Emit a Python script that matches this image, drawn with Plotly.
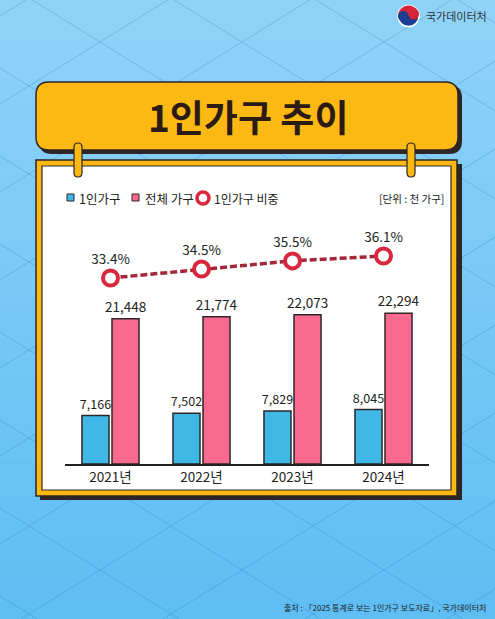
import math
import plotly.graph_objects as go

# data
years = ["2021년", "2022년", "2023년", "2024년"]
single_hh = [7166, 7502, 7829, 8045]
total_hh = [21448, 21774, 22073, 22294]
single_share = [33.4, 34.5, 35.5, 36.1]

W, H = 495, 619
BLUE = "#3FB8E8"
PINK = "#FB6A8E"
RED = "#D9283D"
YELLOW = "#FDB913"
DARK = "#2E2626"
KR = "Noto Sans CJK KR, sans-serif"


def X(px):
    return px / W


def Y(py):
    return 1 - py / H


def rrect_path(x0, y0, x1, y1, r):
    # rounded rectangle in pixel coords -> paper path
    pts = [
        f"M{X(x0 + r)},{Y(y0)}", f"L{X(x1 - r)},{Y(y0)}", f"Q{X(x1)},{Y(y0)} {X(x1)},{Y(y0 + r)}",
        f"L{X(x1)},{Y(y1 - r)}", f"Q{X(x1)},{Y(y1)} {X(x1 - r)},{Y(y1)}",
        f"L{X(x0 + r)},{Y(y1)}", f"Q{X(x0)},{Y(y1)} {X(x0)},{Y(y1 - r)}",
        f"L{X(x0)},{Y(y0 + r)}", f"Q{X(x0)},{Y(y0)} {X(x0 + r)},{Y(y0)}", "Z",
    ]
    return " ".join(pts)


def arc_path(cx, cy, r, a0, a1, n=24):
    pts = []
    for i in range(n + 1):
        a = math.radians(a0 + (a1 - a0) * i / n)
        pts.append((cx + r * math.cos(a), cy - r * math.sin(a)))
    return "M" + " L".join(f"{X(px)},{Y(py)}" for px, py in pts) + " Z"


def prect(x0, y0, x1, y1, fill, line=None, lw=0, layer="below"):
    return dict(type="rect", xref="paper", yref="paper", x0=X(x0), x1=X(x1), y0=Y(y1), y1=Y(y0),
                fillcolor=fill, line=dict(color=line or fill, width=lw), layer=layer)


shapes = []

# background gradient bands
top_c, bot_c = (0x90, 0xD3, 0xF8), (0x5F, 0xBE, 0xF4)
nb = 31
for i in range(nb):
    t = i / (nb - 1)
    c = tuple(int(top_c[k] + (bot_c[k] - top_c[k]) * t) for k in range(3))
    shapes.append(prect(-2, i * 20 - 1, W + 2, (i + 1) * 20 + 1, "rgb(%d,%d,%d)" % c))

# diagonal lattice
s, P = 0.62, 88
for k in range(-12, 14):
    c0 = k * P - 20
    for sign in (1, -1):
        xa, xb = -10, W + 10
        if sign == 1:
            ya, yb = c0 + s * xa, c0 + s * xb
        else:
            ya, yb = c0 + 300 - s * xa, c0 + 300 - s * xb
        shapes.append(dict(type="line", xref="paper", yref="paper", x0=X(xa), x1=X(xb), y0=Y(ya), y1=Y(yb),
                           line=dict(color="rgba(40,120,185,0.28)", width=1), layer="below"))

# title banner
shapes.append(dict(type="path", xref="paper", yref="paper", path=rrect_path(39, 85, 462, 154, 13),
                   fillcolor=DARK, line=dict(width=0), layer="below"))
shapes.append(dict(type="path", xref="paper", yref="paper", path=rrect_path(36, 82, 458, 150, 13),
                   fillcolor=YELLOW, line=dict(color=DARK, width=1.5), layer="below"))

# chart frame
shapes.append(prect(40, 164, 462, 500, DARK))
shapes.append(prect(36, 160, 457, 496, YELLOW, DARK, 1.5))
shapes.append(prect(42, 166, 451, 490, "white", DARK, 1.2))

# pins
for cx in (78, 411):
    shapes.append(dict(type="path", xref="paper", yref="paper", path=rrect_path(cx - 4, 143, cx + 4, 177, 4),
                       fillcolor=YELLOW, line=dict(color=DARK, width=1.2), layer="above"))

# legend symbols
shapes.append(prect(67, 194, 74, 201, BLUE, DARK, 1))
shapes.append(prect(132, 194, 139, 201, PINK, DARK, 1))
shapes.append(dict(type="circle", xref="paper", yref="paper", x0=X(197), x1=X(209), y0=Y(204), y1=Y(192),
                   fillcolor="white", line=dict(color=RED, width=3.5), layer="above"))

# logo
shapes.append(dict(type="circle", xref="paper", yref="paper", x0=X(398), x1=X(419), y0=Y(26.5), y1=Y(5.5),
                   fillcolor="#1C3F94", line=dict(color="white", width=1.5), layer="below"))
shapes.append(dict(type="path", xref="paper", yref="paper", path=arc_path(408.5, 16, 10.5, 10, 190),
                   fillcolor="#D4263A", line=dict(width=0), layer="below"))
shapes.append(dict(type="circle", xref="paper", yref="paper", x0=X(398), x1=X(408.5), y0=Y(21.5), y1=Y(11),
                   fillcolor="#1C3F94", line=dict(width=0), layer="below"))
shapes.append(dict(type="circle", xref="paper", yref="paper", x0=X(408.5), x1=X(419), y0=Y(19.5), y1=Y(9),
                   fillcolor="#D4263A", line=dict(width=0), layer="below"))

fig = go.Figure()
fig.add_trace(go.Bar(x=years, y=single_hh, name="1인가구", marker=dict(color=BLUE, line=dict(color=DARK, width=1.5)),
                     texttemplate="%{y:,}", textposition="outside", cliponaxis=False, constraintext="none",
                     textfont=dict(family=KR, size=12.5, color="#222")))
fig.add_trace(go.Bar(x=years, y=total_hh, name="전체 가구", marker=dict(color=PINK, line=dict(color=DARK, width=1.5)),
                     texttemplate="%{y:,}", textposition="outside", cliponaxis=False, constraintext="none",
                     textfont=dict(family=KR, size=13.5, color="#222")))
fig.add_trace(go.Scatter(x=years, y=single_share, yaxis="y2", mode="lines", cliponaxis=False,
                         line=dict(color="#A3283A", width=3.5, dash="7px,3px"), showlegend=False))
fig.add_trace(go.Scatter(x=years, y=single_share, yaxis="y2", mode="markers+text", name="1인가구 비중",
                         cliponaxis=False, texttemplate="%{y}%", textposition="top center",
                         textfont=dict(family=KR, size=13.5, color="#222"),
                         marker=dict(size=15, color="white", line=dict(color=RED, width=4))))

annotations = [
    dict(text="<b>1인가구 추이</b>", x=X(248), y=Y(116), xanchor="center",
         font=dict(family=KR, size=37, color="#2B1B14", weight=900)),
    dict(text="1인가구", x=X(77), y=Y(198), xanchor="left", font=dict(family=KR, size=12.5, color="#222")),
    dict(text="전체 가구", x=X(143), y=Y(198), xanchor="left", font=dict(family=KR, size=12.5, color="#222")),
    dict(text="1인가구 비중", x=X(212), y=Y(198), xanchor="left", font=dict(family=KR, size=12, color="#222")),
    dict(text="[단위 : 천 가구]", x=X(446), y=Y(198), xanchor="right", font=dict(family=KR, size=10.5, color="#222")),
    dict(text="국가데이터처", x=X(424), y=Y(16), xanchor="left", font=dict(family=KR, size=11, color="#333")),
    dict(text="출처 : 「2025 통계로 보는 1인가구 보도자료」, 국가데이터처", x=X(488), y=Y(607), xanchor="right",
         font=dict(family=KR, size=8, color="#222")),
]
for a in annotations:
    a.update(xref="paper", yref="paper", showarrow=False, yanchor="middle")

fig.update_layout(
    width=W, height=H, margin=dict(l=0, r=0, t=0, b=0),
    paper_bgcolor="#7FCBF6", plot_bgcolor="rgba(0,0,0,0)",
    showlegend=False, barmode="group", bargap=0.34, bargroupgap=0.1,
    shapes=shapes, annotations=annotations,
    xaxis=dict(domain=[X(65), X(429)], showline=True, linecolor="#222", linewidth=1.5, ticks="",
               showgrid=False, zeroline=False, tickfont=dict(family=KR, size=13.5, color="#222"), fixedrange=True),
    yaxis=dict(domain=[Y(464), Y(261)], range=[0, 30000], visible=False, fixedrange=True),
    yaxis2=dict(domain=[Y(300), Y(230)], range=[30.7, 39.29], anchor="x", visible=False, fixedrange=True),
)

fig.write_html("out.html", config={"displayModeBar": False},
               post_script="document.body.style.margin='0';")
